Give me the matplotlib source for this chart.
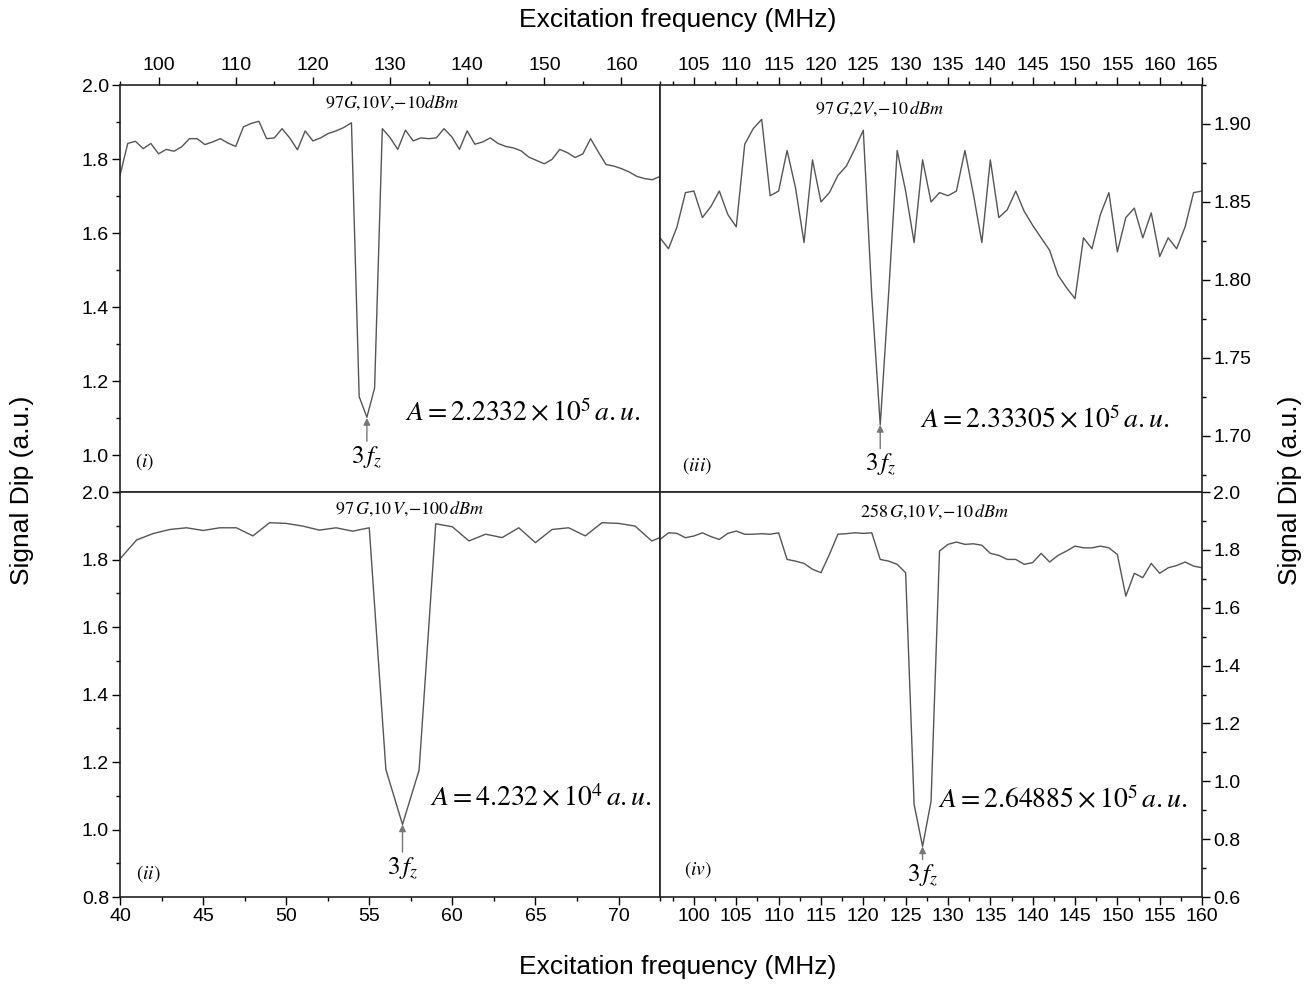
import matplotlib
matplotlib.use("Agg")
import matplotlib.pyplot as plt
from matplotlib.ticker import MultipleLocator
import numpy as np

plt.rcParams['font.family'] = ['Liberation Sans', 'DejaVu Sans']
plt.rcParams['mathtext.fontset'] = 'stix'

# panel (i): 97G, 10V, -10dBm
freq_i = np.arange(95, 166)
dip_i = [1.756, 1.842, 1.848, 1.828, 1.842, 1.814, 1.826, 1.821, 1.833, 1.855,
         1.855, 1.839, 1.846, 1.855, 1.843, 1.834, 1.887, 1.896, 1.902, 1.855,
         1.857, 1.882, 1.857, 1.825, 1.876, 1.849, 1.857, 1.869, 1.876, 1.885,
         1.898, 1.158, 1.102, 1.181, 1.882, 1.858, 1.826, 1.878, 1.849, 1.857,
         1.855, 1.857, 1.882, 1.860, 1.826, 1.876, 1.840, 1.846, 1.857, 1.842,
         1.834, 1.830, 1.822, 1.805, 1.796, 1.787, 1.799, 1.826, 1.817, 1.804,
         1.814, 1.855, 1.819, 1.785, 1.781, 1.774, 1.765, 1.753, 1.747, 1.744,
         1.753]

# panel (ii): 97G, 10V, -100dBm
freq_ii = np.arange(40, 74)
dip_ii = [1.802, 1.858, 1.877, 1.889, 1.894, 1.886, 1.894, 1.894, 1.870, 1.909,
          1.907, 1.899, 1.887, 1.894, 1.884, 1.894, 1.178, 1.015, 1.176, 1.906,
          1.897, 1.855, 1.875, 1.865, 1.894, 1.850, 1.889, 1.894, 1.870, 1.909,
          1.907, 1.899, 1.855, 1.875]

# panel (iii): 97G, 2V, -10dBm
freq_iii = np.arange(101, 166)
dip_iii = [1.827, 1.820, 1.834, 1.856, 1.857, 1.840, 1.847, 1.857, 1.842, 1.834,
           1.887, 1.897, 1.903, 1.854, 1.857, 1.883, 1.859, 1.824, 1.877, 1.850,
           1.856, 1.867, 1.873, 1.884, 1.896, 1.790, 1.707, 1.792, 1.883, 1.857,
           1.824, 1.877, 1.850, 1.856, 1.854, 1.857, 1.883, 1.855, 1.824, 1.877,
           1.840, 1.845, 1.857, 1.844, 1.835, 1.827, 1.819, 1.803, 1.795, 1.788,
           1.827, 1.820, 1.842, 1.856, 1.818, 1.840, 1.846, 1.827, 1.843, 1.815,
           1.827, 1.820, 1.834, 1.856, 1.857]

# panel (iv): 258G, 10V, -10dBm
freq_iv = np.arange(96, 161)
dip_iv = [1.836, 1.859, 1.857, 1.842, 1.848, 1.859, 1.846, 1.836, 1.857, 1.865,
          1.854, 1.854, 1.856, 1.854, 1.859, 1.767, 1.761, 1.753, 1.733, 1.721,
          1.784, 1.854, 1.856, 1.859, 1.857, 1.859, 1.767, 1.761, 1.750, 1.721,
          0.920, 0.775, 0.931, 1.796, 1.819, 1.827, 1.819, 1.821, 1.816, 1.788,
          1.781, 1.767, 1.767, 1.750, 1.756, 1.788, 1.758, 1.781, 1.796, 1.813,
          1.807, 1.807, 1.813, 1.807, 1.784, 1.640, 1.719, 1.704, 1.753, 1.719,
          1.738, 1.746, 1.758, 1.744, 1.738]

fig = plt.figure(figsize=(13.13, 9.85), dpi=100)

ax1 = fig.add_axes([0.0914, 0.5005, 0.4113, 0.4132])
ax3 = fig.add_axes([0.5027, 0.5005, 0.4128, 0.4132])
ax2 = fig.add_axes([0.0914, 0.0893, 0.4113, 0.4112])
ax4 = fig.add_axes([0.5027, 0.0893, 0.4128, 0.4112])

line_kw = dict(color='#555555', lw=1.0)
ax1.plot(freq_i, dip_i, **line_kw)
ax2.plot(freq_ii, dip_ii, **line_kw)
ax3.plot(freq_iii, dip_iii, **line_kw)
ax4.plot(freq_iv, dip_iv, **line_kw)

ax1.set_xlim(95, 165)
ax1.set_ylim(0.9, 2.0)
ax2.set_xlim(40, 72.5)
ax2.set_ylim(0.8, 2.0)
ax3.set_xlim(101, 165)
ax3.set_ylim(1.664, 1.925)
ax4.set_xlim(96, 160)
ax4.set_ylim(0.6, 2.0)

ax1.xaxis.set_major_locator(MultipleLocator(10))
ax1.xaxis.set_minor_locator(MultipleLocator(5))
ax1.yaxis.set_major_locator(MultipleLocator(0.2))
ax1.yaxis.set_minor_locator(MultipleLocator(0.1))
ax1.set_yticks([1.0, 1.2, 1.4, 1.6, 1.8, 2.0])

ax2.xaxis.set_major_locator(MultipleLocator(5))
ax2.xaxis.set_minor_locator(MultipleLocator(2.5))
ax2.yaxis.set_major_locator(MultipleLocator(0.2))
ax2.yaxis.set_minor_locator(MultipleLocator(0.1))

ax3.xaxis.set_major_locator(MultipleLocator(5))
ax3.xaxis.set_minor_locator(MultipleLocator(2.5))
ax3.yaxis.set_major_locator(MultipleLocator(0.05))
ax3.yaxis.set_minor_locator(MultipleLocator(0.025))

ax4.xaxis.set_major_locator(MultipleLocator(5))
ax4.xaxis.set_minor_locator(MultipleLocator(2.5))
ax4.yaxis.set_major_locator(MultipleLocator(0.2))
ax4.yaxis.set_minor_locator(MultipleLocator(0.1))

for ax in (ax1, ax3):
    ax.xaxis.tick_top()
for ax in (ax3, ax4):
    ax.yaxis.tick_right()

int_fmt = plt.FuncFormatter(lambda v, p: f'{v:.0f}')
for ax in (ax1, ax2, ax3, ax4):
    ax.xaxis.set_major_formatter(int_fmt)
ax1.yaxis.set_major_formatter(plt.FuncFormatter(lambda v, p: f'{v:.1f}'))
ax2.yaxis.set_major_formatter(plt.FuncFormatter(lambda v, p: f'{v:.1f}'))
ax4.yaxis.set_major_formatter(plt.FuncFormatter(lambda v, p: f'{v:.1f}'))
ax3.yaxis.set_major_formatter(plt.FuncFormatter(lambda v, p: f'{v:.2f}'))

for ax in (ax1, ax2, ax3, ax4):
    ax.tick_params(which='major', direction='out', length=6, width=1, labelsize=14, pad=2)
    ax.tick_params(which='minor', direction='out', length=3, width=1)
    for s in ax.spines.values():
        s.set_linewidth(1.2)
        s.set_color('#222222')

# condition labels
ax1.text(0.504, 0.956, r'$97G{,}10V{,}{-}10dBm$', transform=ax1.transAxes,
         ha='center', va='center', fontsize=13)
ax3.text(0.406, 0.943, r'$97\,G{,}2V{,}{-}10\,dBm$', transform=ax3.transAxes,
         ha='center', va='center', fontsize=13)
ax2.text(0.537, 0.960, r'$97\,G{,}10\,V{,}{-}100\,dBm$', transform=ax2.transAxes,
         ha='center', va='center', fontsize=13)
ax4.text(0.507, 0.951, r'$258\,G{,}10\,V{,}{-}10\,dBm$', transform=ax4.transAxes,
         ha='center', va='center', fontsize=13)

# fitted areas
ax1.text(0.528, 0.194, r'$A=2.2332\times10^{5}\,a{.}u{.}$', transform=ax1.transAxes,
         ha='left', va='center', fontsize=20)
ax3.text(0.48, 0.177, r'$A=2.33305\times10^{5}\,a{.}u{.}$', transform=ax3.transAxes,
         ha='left', va='center', fontsize=20)
ax2.text(0.574, 0.244, r'$A=4.232\times10^{4}\,a{.}u{.}$', transform=ax2.transAxes,
         ha='left', va='center', fontsize=20)
ax4.text(0.513, 0.240, r'$A=2.64885\times10^{5}\,a{.}u{.}$', transform=ax4.transAxes,
         ha='left', va='center', fontsize=20)

# panel tags
ax1.text(0.046, 0.074, r'$(i)$', transform=ax1.transAxes, ha='center', va='center', fontsize=14)
ax3.text(0.068, 0.064, r'$(iii)$', transform=ax3.transAxes, ha='center', va='center', fontsize=14)
ax2.text(0.052, 0.059, r'$(ii)$', transform=ax2.transAxes, ha='center', va='center', fontsize=14)
ax4.text(0.070, 0.067, r'$(iv)$', transform=ax4.transAxes, ha='center', va='center', fontsize=14)

# 3f_z arrows
arrow_kw = dict(arrowstyle='-|>', color='#777777', lw=1, shrinkA=0, shrinkB=0, mutation_scale=10)
ax1.annotate(r'$3\,f_z$', xy=(127, 1.10), xytext=(127, 1.03), ha='center', va='top',
             fontsize=18, arrowprops=arrow_kw)
ax3.annotate(r'$3\,f_z$', xy=(127, 1.707), xytext=(127, 1.690), ha='center', va='top',
             fontsize=18, arrowprops=arrow_kw)
ax2.annotate(r'$3\,f_z$', xy=(57, 1.015), xytext=(57, 0.925), ha='center', va='top',
             fontsize=18, arrowprops=arrow_kw)
ax4.annotate(r'$3\,f_z$', xy=(127, 0.775), xytext=(127, 0.72), ha='center', va='top',
             fontsize=18, arrowprops=arrow_kw)

fig.text(0.516, 0.018, 'Excitation frequency (MHz)', ha='center', va='center', fontsize=19)
fig.text(0.516, 0.980, 'Excitation frequency (MHz)', ha='center', va='center', fontsize=19)
fig.text(0.0168, 0.5025, 'Signal Dip (a.u.)', ha='center', va='center', rotation=90, fontsize=19)
fig.text(0.9825, 0.5025, 'Signal Dip (a.u.)', ha='center', va='center', rotation=90, fontsize=19)

fig.savefig('out.png', dpi=100)
